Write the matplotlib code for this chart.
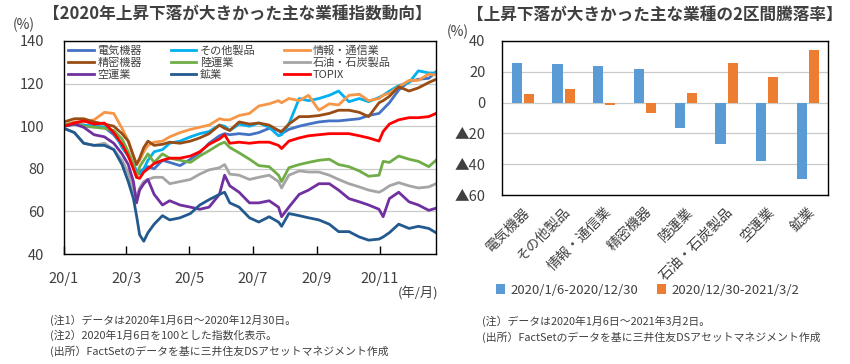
import matplotlib.pyplot as plt
import matplotlib.dates as mdates
import numpy as np
import pandas as pd

plt.rcParams['font.family'] = ['Noto Sans CJK JP', 'DejaVu Sans']
TXT = '#404040'

# ---- left chart data (index, 2020/1/6 = 100) ----
dates = pd.to_datetime([
    '2020-01-06', '2020-01-16', '2020-01-25', '2020-02-04', '2020-02-14', '2020-02-23',
    '2020-03-02', '2020-03-08', '2020-03-13', '2020-03-16', '2020-03-19', '2020-03-23', '2020-03-27',
    '2020-04-02', '2020-04-10', '2020-04-17', '2020-04-27', '2020-05-07', '2020-05-16', '2020-05-25',
    '2020-06-04', '2020-06-09', '2020-06-14', '2020-06-23', '2020-07-03',
    '2020-07-12', '2020-07-22', '2020-07-31', '2020-08-03', '2020-08-10',
    '2020-08-20', '2020-08-29', '2020-09-08', '2020-09-18', '2020-09-27',
    '2020-10-07', '2020-10-17', '2020-10-26', '2020-11-05', '2020-11-09',
    '2020-11-15', '2020-11-24', '2020-12-04', '2020-12-13', '2020-12-23', '2020-12-30'])

electric = [100, 101, 100.5, 100, 99.5, 96, 91, 86, 82, 79, 78.5, 80, 81,
            80, 84, 83, 81.5, 84.5, 87.5, 92, 95.5, 96.5, 96, 96.5, 96,
            97, 99, 98, 96.5, 98.5, 100, 101, 102, 102.5, 102.5,
            103, 103.5, 105, 106, 108, 111, 117, 121, 122, 122.5, 125.5]
other = [100, 101, 100.5, 100, 99.5, 97.5, 90, 86, 82, 79, 77.5, 80, 84,
         88, 89, 92, 93, 95, 96.5, 97.5, 100.5, 100, 98, 101, 100,
         101.5, 99.5, 95.5, 96, 101, 113, 112, 113, 114.5, 116.5,
         111.5, 113, 111.5, 113.5, 114.5, 116.5, 119, 120.5, 126, 125, 125]
info = [100.5, 102, 102, 103, 106.5, 106, 99, 93, 86, 82, 84, 88, 91,
        92.5, 93, 95, 97, 98.5, 99.5, 100.5, 103.5, 103, 103, 105, 106,
        109.5, 110.5, 112, 111, 113, 112, 114.5, 107.5, 110.5, 110,
        114.5, 115, 112, 113, 114.5, 115.5, 118.5, 121.5, 121.5, 124.5, 124]
precision = [102, 103.5, 103.5, 102, 101, 100, 96.5, 93, 86, 82, 85, 90, 93,
             91, 91.5, 92.5, 92, 93, 94.5, 96.5, 100.5, 99, 98, 102, 101,
             101.5, 100.5, 98, 97.5, 101, 104.5, 104.5, 105, 106, 107.5,
             107.5, 106.5, 104.5, 111, 112, 114, 118.5, 116.5, 118, 120.5, 122]
land = [100.5, 101.5, 100, 99.5, 99, 98, 94, 88, 82, 76, 81, 84, 87,
        83, 87, 85, 84, 83, 86, 88.5, 91.5, 92.5, 90, 87.5, 84.5,
        81.5, 81, 77, 74, 80.5, 82, 83, 84, 84.5, 82,
        81, 79, 76.5, 77, 83.5, 83, 86, 84.5, 83.5, 81, 84]
oil = [99, 97, 92, 91, 92, 89, 84, 78, 70, 67, 71, 74, 75,
       76, 76, 73, 74, 75, 77.5, 79.5, 80.5, 82, 77.5, 77, 75,
       76, 77, 74, 71, 77, 79, 78.5, 78.5, 77, 75,
       73, 71.5, 70, 69, 70, 72, 73.5, 72, 71, 71.5, 73]
air = [100, 101, 99.5, 96, 95, 92, 87, 82, 74, 64, 70, 73, 75,
       68, 63, 65, 63, 62, 61, 62, 68, 77, 72, 69, 64,
       64, 65, 62, 57.5, 62, 68, 70, 73, 73, 70,
       66, 64.5, 63, 61, 57.5, 66, 69, 64.5, 63, 60.5, 61.5]
mining = [99, 97, 92, 91, 91, 89, 82, 74, 66, 58, 49, 46, 50,
          54, 58, 56, 57, 59, 63, 65.5, 68, 69, 64, 62, 57,
          55, 57.5, 55, 53, 59, 58, 57, 56, 54, 50.5,
          50.5, 48, 46.5, 47, 48, 50, 54, 52, 53, 52, 50]
topix = [100, 101.5, 102.5, 101, 101.5, 97, 91.5, 86, 80, 76, 75.5, 78.5, 80,
         82.5, 84, 85, 85, 86, 88, 91.5, 94, 96, 92, 92.5, 92,
         92.5, 92.5, 91, 89.5, 93, 94.5, 95.5, 96, 96.5, 96.5,
         96.5, 95.5, 94.5, 93, 97.5, 101, 103, 104, 104, 104.5, 106]

series = [electric, other, info, precision, land, oil, air, mining, topix]
names = ['電気機器', 'その他製品', '情報・通信業', '精密機器', '陸運業',
         '石油・石炭製品', '空運業', '鉱業', 'TOPIX']
colors = ['#4472C4', '#00B0F0', '#F79646', '#994C14', '#70AD47',
          '#A5A5A5', '#7030A0', '#22598F', '#FF0000']

xtick_dates = pd.to_datetime(['2020-01-06', '2020-03-06', '2020-05-06',
                              '2020-07-06', '2020-09-06', '2020-11-06'])
xtick_labels = ['20/1', '20/3', '20/5', '20/7', '20/9', '20/11']

# ---- right chart data (%) ----
cats = ['電気機器', 'その他製品', '情報・通信業', '精密機器', '陸運業',
        '石油・石炭製品', '空運業', '鉱業']
chg_2020 = [25.6, 24.8, 23.9, 22.0, -16.3, -27.1, -38.2, -49.9]
chg_2021 = [5.5, 9.1, -1.5, -6.9, 6.3, 25.4, 16.5, 34.1]
bar_labels = ['2020/1/6-2020/12/30', '2020/12/30-2021/3/2']
bar_yticks = [40, 20, 0, -20, -40, -60]
bar_yticklabels = ['40', '20', '0', '▲20', '▲40', '▲60']

fig = plt.figure(figsize=(8.5, 3.64), dpi=100)

# Left: index lines
###############################################################################
ax = fig.add_axes([64/850, 1-254/364, (436-64)/850, (254-41)/364])
lines = []
for vals, name, c in zip(series, names, colors):
    ln, = ax.plot(dates, vals, color=c, lw=2, label=name)
    lines.append(ln)

ax.set_xlim(pd.Timestamp('2020-01-06'), pd.Timestamp('2020-12-30'))
ax.set_ylim(40, 140)
ax.set_yticks([40, 60, 80, 100, 120, 140])
ax.set_xticks(xtick_dates)
ax.set_xticklabels(xtick_labels)
ax.grid(axis='y', color='#C8CCC8', lw=0.9)
ax.set_axisbelow(True)
ax.tick_params(axis='y', length=0, pad=14, labelsize=10.5, labelcolor=TXT)
ax.tick_params(axis='x', direction='in', length=6, width=1, pad=13,
               labelsize=10.5, labelcolor=TXT)
for s in ax.spines.values():
    s.set_color('black')
    s.set_linewidth(1)

order = [0, 3, 6, 1, 4, 7, 2, 5, 8]
ax.legend([lines[i] for i in order], [names[i] for i in order], ncol=3,
          loc='upper left', bbox_to_anchor=(0, 1), frameon=False,
          fontsize=8, handlelength=2.3, handletextpad=0.3,
          columnspacing=2.6, labelspacing=0.15, borderpad=0.3,
          borderaxespad=0.1, labelcolor=TXT)

fig.text(13/850, 1-25/364, '(%)', fontsize=10, color=TXT, va='center')
fig.text(398/850, 1-294/364, '(年/月)', fontsize=9.5, color=TXT, va='center')
fig.text(43/850, 1-15/364, '【2020年上昇下落が大きかった主な業種指数動向】',
         fontsize=12, fontweight='bold', color=TXT, va='center')
fig.text(50/850, 1-315/364, '(注1）データは2020年1月6日～2020年12月30日。\n'
         '(注2）2020年1月6日を100とした指数化表示。\n'
         '(出所）FactSetのデータを基に三井住友DSアセットマネジメント作成',
         fontsize=7.8, color=TXT, va='top', linespacing=1.4)

# Right: two-period change bars
###############################################################################
ax2 = fig.add_axes([502/850, 1-195/364, (828-502)/850, (195-41)/364])
x = np.arange(len(cats))
w = 0.25
b1 = ax2.bar(x - 0.14, chg_2020, w, color='#5B9BD5', label=bar_labels[0])
b2 = ax2.bar(x + 0.16, chg_2021, w, color='#ED7D31', label=bar_labels[1])
ax2.set_xlim(-0.5, len(cats) - 0.5)
ax2.set_ylim(-60, 40)
ax2.set_yticks(bar_yticks)
ax2.set_yticklabels(bar_yticklabels)
ax2.set_xticks(x)
ax2.set_xticklabels(cats, rotation=45, ha='right', rotation_mode='anchor')
ax2.grid(axis='y', color='#C8CCC8', lw=0.9)
ax2.set_axisbelow(True)
ax2.tick_params(axis='y', length=0, pad=12, labelsize=10.5, labelcolor=TXT)
ax2.tick_params(axis='x', length=0, pad=7, labelsize=10, labelcolor=TXT)
for s in ax2.spines.values():
    s.set_color('black')
    s.set_linewidth(1)

fig.legend([b1, b2], bar_labels, ncol=2, loc='center left',
           bbox_to_anchor=(484/850, 1-290/364), frameon=False, fontsize=9.5,
           handlelength=0.7, handleheight=0.7, handletextpad=0.4,
           columnspacing=1.4, labelcolor=TXT)

fig.text(447/850, 1-32/364, '(%)', fontsize=10, color=TXT, va='center')
fig.text(467/850, 1-15/364, '【上昇下落が大きかった主な業種の2区間騰落率】',
         fontsize=12, fontweight='bold', color=TXT, va='center')
fig.text(482/850, 1-316/364, '(注）データは2020年1月6日～2021年3月2日。\n'
         '(出所）FactSetのデータを基に三井住友DSアセットマネジメント作成',
         fontsize=7.8, color=TXT, va='top', linespacing=1.4)

fig.savefig('out.png', dpi=100)
